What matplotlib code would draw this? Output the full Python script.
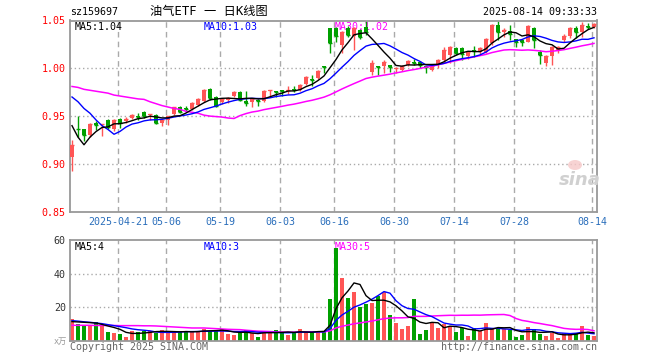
import numpy as np
import matplotlib
matplotlib.use("Agg")
import matplotlib.pyplot as plt
from matplotlib.patches import Ellipse

# ---------------- data ----------------
code = "sz159697"
title = "油气ETF 一 日K线图"
stamp = "2025-08-14 09:33:33"

tick_labels = ["2025-04-21", "05-06", "05-19", "06-03", "06-16", "06-30", "07-14", "07-28", "08-14"]
tick_index = [8, 16, 25, 35, 44, 54, 64, 74, 87]

opens = [0.907, 0.937, 0.936, 0.930, 0.943, 0.941, 0.946, 0.936, 0.947, 0.945,
         0.948, 0.950, 0.954, 0.951, 0.951, 0.943, 0.946, 0.952, 0.960, 0.958,
         0.957, 0.962, 0.966, 0.978, 0.970, 0.965, 0.967, 0.971, 0.975, 0.966,
         0.965, 0.967, 0.966, 0.976, 0.976, 0.977, 0.976, 0.978, 0.977, 0.984,
         0.989, 0.990, 1.002, 1.042, 1.042, 1.024, 1.042, 1.034, 1.040, 1.043,
         0.996, 1.002, 1.002, 1.003, 0.999, 0.998, 1.003, 1.007, 1.007, 1.002,
         0.998, 1.003, 1.009, 1.014, 1.021, 1.021, 1.013, 1.019, 1.017, 1.017,
         1.026, 1.045, 1.038, 1.039, 1.031, 1.030, 1.028, 1.042, 1.017, 1.006,
         1.013, 1.018, 1.030, 1.034, 1.042, 1.038, 1.044, 1.043]
highs = [0.925, 0.950, 0.937, 0.943, 0.945, 0.942, 0.947, 0.947, 0.948, 0.949,
         0.952, 0.953, 0.955, 0.952, 0.952, 0.947, 0.950, 0.960, 0.961, 0.961,
         0.965, 0.969, 0.978, 0.979, 0.971, 0.969, 0.970, 0.976, 0.976, 0.976,
         0.968, 0.968, 0.977, 0.977, 0.976, 0.977, 0.981, 0.981, 0.984, 0.992,
         0.993, 0.998, 1.002, 1.042, 1.043, 1.039, 1.044, 1.043, 1.041, 1.050,
         1.009, 1.002, 1.009, 1.003, 1.001, 1.003, 1.009, 1.010, 1.008, 1.002,
         1.003, 1.010, 1.022, 1.023, 1.022, 1.022, 1.018, 1.023, 1.022, 1.032,
         1.046, 1.049, 1.042, 1.045, 1.031, 1.031, 1.045, 1.043, 1.019, 1.014,
         1.023, 1.023, 1.036, 1.043, 1.044, 1.048, 1.047, 1.047]
lows = [0.893, 0.928, 0.924, 0.928, 0.935, 0.929, 0.937, 0.934, 0.938, 0.943,
        0.947, 0.946, 0.948, 0.946, 0.942, 0.940, 0.941, 0.951, 0.953, 0.954,
        0.956, 0.961, 0.965, 0.967, 0.960, 0.963, 0.964, 0.970, 0.966, 0.961,
        0.959, 0.961, 0.965, 0.971, 0.970, 0.971, 0.973, 0.975, 0.976, 0.983,
        0.981, 0.989, 0.995, 1.016, 1.028, 1.016, 1.033, 1.019, 1.031, 1.035,
        0.993, 0.993, 0.995, 0.996, 0.995, 0.997, 1.002, 1.003, 1.000, 0.995,
        0.997, 1.000, 1.007, 1.006, 1.014, 1.009, 1.010, 1.012, 1.015, 1.016,
        1.024, 1.030, 1.033, 1.030, 1.022, 1.023, 1.027, 1.021, 1.005, 1.002,
        1.003, 1.016, 1.028, 1.032, 1.032, 1.033, 1.041, 1.042]
closes = [0.920, 0.936, 0.930, 0.942, 0.941, 0.9415, 0.939, 0.946, 0.943, 0.947,
          0.951, 0.9495, 0.950, 0.952, 0.943, 0.946, 0.950, 0.959, 0.954, 0.957,
          0.964, 0.968, 0.977, 0.969, 0.961, 0.968, 0.969, 0.975, 0.967, 0.964,
          0.968, 0.966, 0.976, 0.977, 0.975, 0.976, 0.977, 0.977, 0.983, 0.991,
          0.988, 0.997, 1.001, 1.026, 1.034, 1.038, 1.035, 1.042, 1.033, 1.038,
          1.006, 1.001, 1.007, 1.001, 1.000, 1.002, 1.008, 1.006, 1.003, 1.001,
          1.002, 1.009, 1.019, 1.022, 1.016, 1.015, 1.017, 1.018, 1.021, 1.031,
          1.045, 1.038, 1.040, 1.036, 1.027, 1.028, 1.044, 1.030, 1.014, 1.013,
          1.022, 1.022, 1.034, 1.042, 1.038, 1.045, 1.043, 1.046]
volumes = [13.0, 10.0, 9.0, 9.5, 11.2, 9.0, 5.2, 4.6, 4.0, 2.2,
           5.8, 5.2, 5.8, 5.8, 4.6, 6.4, 5.2, 5.2, 5.2, 5.2,
           5.8, 5.8, 7.0, 5.8, 5.8, 7.0, 4.0, 3.4, 4.6, 6.4,
           4.6, 2.2, 5.8, 5.2, 6.4, 5.2, 3.4, 4.6, 7.0, 5.8,
           4.6, 5.2, 5.2, 25.0, 55.6, 37.2, 25.6, 29.2, 20.4, 22.2,
           22.6, 26.6, 29.2, 15.4, 10.6, 7.2, 8.8, 25.0, 4.0, 6.4,
           10.6, 7.6, 10.0, 8.8, 5.2, 7.6, 2.8, 7.6, 5.8, 10.6,
           7.6, 7.6, 7.0, 6.4, 2.2, 3.4, 8.2, 7.0, 4.0, 2.8,
           4.6, 1.6, 4.6, 4.0, 4.6, 8.8, 3.6, 2.6]

# moving-average values at the left edge (their windows start before the chart)
ma5_head = [0.940, 0.928, 0.920, 0.928]
ma10_head = [0.970, 0.965, 0.958, 0.953, 0.946, 0.940, 0.936, 0.931, 0.934]
ma30_head = [0.981, 0.980, 0.978, 0.977, 0.976, 0.975, 0.974, 0.972, 0.971, 0.970,
             0.969, 0.968, 0.9675, 0.965, 0.963, 0.961, 0.9595, 0.958, 0.957, 0.955,
             0.954, 0.953, 0.951, 0.950, 0.9495, 0.949, 0.948, 0.9475, 0.9505]
vma5_head = [11.4, 11.2, 11.0, 10.8]
vma10_head = [12.0, 11.7, 11.3, 11.0, 10.6, 10.2, 9.6, 9.0, 8.4]
vma30_head = [9.2, 9.2, 9.2, 9.2, 9.1, 9.1, 9.1, 9.1, 9.0, 9.0,
              9.0, 9.0, 8.9, 8.9, 8.8, 8.6, 8.4, 8.2, 8.0, 7.8,
              7.6, 7.6, 7.6, 7.4, 7.2, 7.0, 6.8, 6.7, 6.6]
vol_ma_labels = ["MA5:4", "MA10:3", "MA30:5"]

price_ticks = [0.85, 0.90, 0.95, 1.00, 1.05]
vol_ticks = [20, 40, 60]

# ---------------- helpers ----------------
W, H = 660, 360
fig = plt.figure(figsize=(W / 100, H / 100), dpi=100)
fig.patch.set_facecolor("white")
MONO = "DejaVu Sans Mono"
FS = 7.2
RED = "#ff5555"
GREEN = "#00a000"
GRID = "#aaaaaa"


def px_axes(l, t, r, b):
    return fig.add_axes([l / W, 1 - b / H, (r - l) / W, (b - t) / H])


def ftext(x, y, s, target=None, **kw):
    kw.setdefault("family", MONO)
    kw.setdefault("fontsize", FS)
    kw.setdefault("va", "center")
    if target is None:
        return fig.text(x / W, 1 - y / H, s, **kw)
    return target.text(x / W, 1 - y / H, s, transform=fig.transFigure, **kw)


def moving_avg(values, n, head):
    v = np.asarray(values, float)
    out = np.empty(len(v))
    out[: n - 1] = head
    for i in range(n - 1, len(v)):
        out[i] = v[i - n + 1: i + 1].mean()
    return out


def trunc2(v):
    return np.floor(v * 100 + 1e-9) / 100


o = np.array(opens); h = np.array(highs); l = np.array(lows); c = np.array(closes)
vol = np.array(volumes)
x = np.arange(len(c))
up = c >= o
cols = np.where(up, RED, GREEN)

ax = px_axes(70, 20.5, 597, 211.7)
axv = px_axes(70, 240.3, 597, 340.7)

for a in (ax, axv):
    a.set_xlim(-1 / 3, 87.5)
    for s in a.spines.values():
        s.set_color("#999999")
        s.set_linewidth(1.3)
    a.tick_params(length=0)
    for ti in tick_index:
        a.axvline(ti - 0.3, color=GRID, lw=1.0, ls=(0, (4, 3)), zorder=0)

# ---------------- price panel ----------------
ax.set_ylim(0.85, 1.05)
for yv in price_ticks[1:-1]:
    ax.axhline(yv, color=GRID, lw=1.0, ls=(0, (1, 2)), zorder=0)
ax.vlines(x, l, h, colors=cols, lw=1.0, zorder=2)
ax.bar(x, np.abs(c - o), bottom=np.minimum(o, c), width=0.8, color=cols, zorder=3)
ax.hlines(c, x - 0.4, x + 0.4, colors=cols, lw=1.0, zorder=3)

ma5 = moving_avg(c, 5, ma5_head)
ma10 = moving_avg(c, 10, ma10_head)
ma30 = moving_avg(c, 30, ma30_head)
ax.plot(x, ma30, color="#ff00ff", lw=1.1, zorder=4)
ax.plot(x, ma10, color="#0000ff", lw=1.0, zorder=4)
ax.plot(x, ma5, color="black", lw=1.0, zorder=5)

ax.set_yticks(price_ticks)
ax.set_yticklabels([f"{v:.2f}" for v in price_ticks], family=MONO, fontsize=FS, color="#ff0000")
ax.tick_params(axis="y", pad=3)
ax.set_xticks([ti - 0.3 for ti in tick_index])
ax.set_xticklabels(tick_labels, family=MONO, fontsize=FS, color="#2a6ebb")
ax.tick_params(axis="x", pad=4)

# ---------------- volume panel ----------------
axv.set_ylim(0, 60)
for yv in vol_ticks[:-1]:
    axv.axhline(yv, color=GRID, lw=1.0, ls=(0, (1, 2)), zorder=0)
axv.bar(x, vol, width=0.76, color=cols, linewidth=0, zorder=2)
vma5 = moving_avg(vol, 5, vma5_head)
vma10 = moving_avg(vol, 10, vma10_head)
vma30 = moving_avg(vol, 30, vma30_head)
axv.plot(x, vma30, color="#ff00ff", lw=1.1, zorder=4)
axv.plot(x, vma10, color="#0000ff", lw=1.0, zorder=4)
axv.plot(x, vma5, color="black", lw=1.0, zorder=5)
axv.set_yticks(vol_ticks)
axv.set_yticklabels([str(v) for v in vol_ticks], family=MONO, fontsize=FS, color="#333333")
axv.tick_params(axis="y", pad=3)
axv.set_xticks([])

# ---------------- texts ----------------
ftext(70, 12, code, color="black")
ftext(150, 12, title, family=[MONO, "Noto Sans CJK SC"], fontsize=8.8, color="black")
ftext(597, 12, stamp, ha="right", color="black")

ftext(75, 27, f"MA5:{trunc2(ma5[-1]):.2f}", target=ax, color="black", zorder=1)
ftext(204, 27, f"MA10:{trunc2(ma10[-1]):.2f}", target=ax, color="#0000ff", zorder=1)
ftext(335, 27, f"MA30:{trunc2(ma30[-1]):.2f}", target=ax, color="#ff00ff", zorder=1)

ftext(75, 247, vol_ma_labels[0], target=axv, color="black", zorder=1)
ftext(204, 247, vol_ma_labels[1], target=axv, color="#0000ff", zorder=1)
ftext(335, 247, vol_ma_labels[2], target=axv, color="#ff00ff", zorder=1)

ftext(67, 341, "x万", ha="right", family=[MONO, "Noto Sans CJK SC"], fontsize=6, color="#999999")
ftext(70, 347, "Copyright 2025 SINA.COM", color="#666666")
ftext(597, 347, "http://finance.sina.com.cn", ha="right", color="#666666")

# watermark
fig.patches.append(Ellipse((575 / W, 1 - 165 / H), 14 / W, 10 / H, transform=fig.transFigure,
                           facecolor="#f6c8c8", edgecolor="none", alpha=0.8))
ftext(580, 180, "sina", ha="center", family="DejaVu Sans", fontsize=13, fontstyle="italic",
      fontweight="bold", color="#d0d0d0")

fig.savefig("out.png", dpi=100)
